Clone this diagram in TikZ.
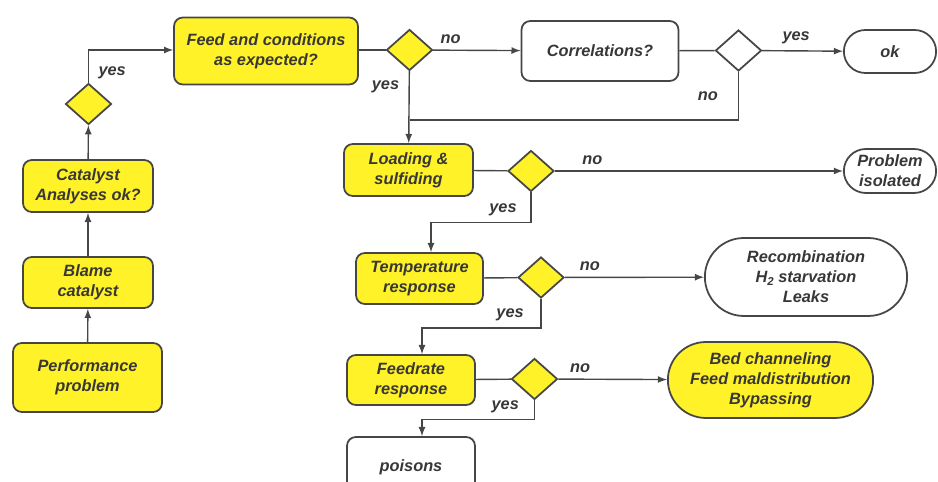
\documentclass[tikz,border=0pt]{standalone}
\usepackage{fontspec}
\setmainfont{Liberation Sans}
\usepackage{tikz}
\usetikzlibrary{shapes.geometric,shapes.misc,arrows,positioning,calc}

\definecolor{boxyellow}{RGB}{255,242,40}
\definecolor{linegray}{RGB}{70,70,70}
\definecolor{textgray}{RGB}{55,55,55}

\begin{document}
\begin{tikzpicture}[
            x=0.02cm, y=-0.02cm,
            color=linegray, line width=0.8pt,
            every node/.style={text=textgray, font=\fontsize{9.3}{11.3}\selectfont\bfseries\itshape},
            box/.style={draw=linegray, line width=1pt, rounded corners=5pt, fill=boxyellow, align=center},
            wbox/.style={box, fill=white},
            term/.style={rounded rectangle, draw=linegray, line width=1pt, fill=white, align=center},
            ybranch/.style={diamond, draw=linegray, line width=1pt, fill=boxyellow, minimum width=0.92cm, minimum height=0.82cm, inner sep=0pt},
            wbranch/.style={ybranch, fill=white},
            >=latex
        ]
        \useasboundingbox (0,0) rectangle (938,482);
        \clip (0,0) rectangle (938,482);

        % Left column %
        \node[box, minimum width=2.98cm, minimum height=1.38cm] (perf) at (87.5,377.5) {Performance\\problem};
        \node[box, minimum width=2.6cm, minimum height=1.02cm] (blame) at (88,282.5) {Blame\\catalyst};
        \node[box, minimum width=2.6cm, minimum height=1.04cm] (cat) at (88,186) {Catalyst\\Analyses ok?};
        \node[ybranch] (d0) at (88.5,104) {};

        % Top row %
        \node[box, minimum width=3.68cm, minimum height=1.34cm] (feed) at (266,51) {Feed and conditions\\as expected?};
        \node[ybranch] (d1) at (409.5,50) {};
        \node[wbox, minimum width=3.14cm, minimum height=1.2cm] (corr) at (600,51) {Correlations?};
        \node[wbranch] (d2) at (738.5,50.5) {};
        \node[term, minimum width=2.08cm, minimum height=0.86cm] (ok) at (890,51.5) {ok};
        \coordinate (join) at (409.5,120);

        % Checks %
        \node[box, minimum width=2.58cm, minimum height=1.04cm] (load) at (408.5,170) {Loading \&\\sulfiding};
        \node[ybranch] (d3) at (531,171) {};
        \node[term, minimum width=2.08cm, minimum height=0.88cm] (iso) at (890,171) {Problem\\isolated};

        \node[box, minimum width=2.54cm, minimum height=1.02cm] (temp) at (419.5,278.5) {Temperature\\response};
        \node[ybranch] (d4) at (541,277.5) {};
        \node[term, minimum width=4.28cm, minimum height=1.56cm] (recomb) at (806,277) {Recombination\\H\raisebox{-0.35ex}{\fontsize{6.5}{7}\selectfont 2} starvation\\Leaks};

        \node[box, minimum width=2.56cm, minimum height=1cm] (rate) at (411,380) {Feedrate\\response};
        \node[ybranch] (d5) at (534.5,379) {};
        \node[term, fill=boxyellow, minimum width=4.34cm, minimum height=1.52cm] (bed) at (770.5,380) {Bed channeling\\Feed maldistribution\\Bypassing};

        \node[wbox, minimum width=2.56cm, minimum height=1.2cm] (poison) at (411,467) {poisons};

        % Draw arrows %
        \draw[->] (perf) -- (blame);
        \draw[->] (blame) -- (cat);
        \draw[->] (cat) -- (d0);
        \draw[->] (d0.north) |- node[pos=0.15, right=2pt] {yes} (feed.west |- d1);

        \draw (feed.east |- d1) -- (d1);
        \draw[->] (d1) -- node[pos=0.2, above] {no} (corr);
        \draw[->] (d1) -- node[pos=0.22, left=2pt] {yes} (load);
        \draw (corr) -- (d2);
        \draw[->] (d2) -- node[pos=0.42, above] {yes} (ok);
        \draw (d2.south) |- node[pos=0.25, left=8pt] {no} (join);

        \draw (load) -- (d3);
        \draw[->] (d3) -- node[pos=0.13, above] {no} (iso);
        \draw[->] (d3.south) -- ++(0,30) -| node[pos=0.14, above] {yes} ([xshift=0.23cm]temp.north);

        \draw (temp) -- (d4);
        \draw[->] (d4) -- node[pos=0.18, above] {no} (recomb);
        \draw[->] (d4.south) -- ++(0,29) -| node[pos=0.13, above] {yes} ([xshift=0.22cm]rate.north);

        \draw (rate) -- (d5);
        \draw[->] (d5) -- node[pos=0.2, above] {no} (bed);
        \draw[->] (d5.south) -- ++(0,19) -| node[pos=0.13, above] {yes} ([xshift=0.22cm]poison.north);
\end{tikzpicture}
\end{document}
